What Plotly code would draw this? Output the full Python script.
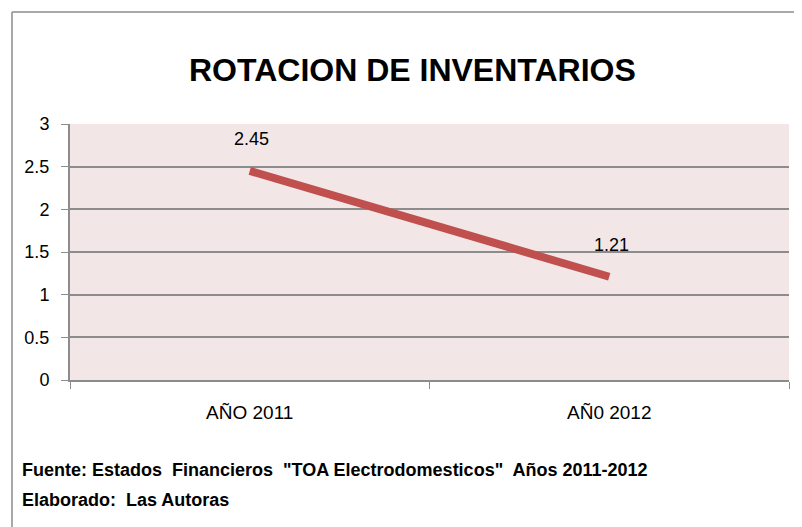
import plotly.graph_objects as go

categories = ["AÑO 2011", "AÑ0 2012"]
values = [2.45, 1.21]
value_labels = ["2.45", "1.21"]
y_ticks = [0, 0.5, 1, 1.5, 2, 2.5, 3]
y_tick_labels = ["0", "0.5", "1", "1.5", "2", "2.5", "3"]
title_text = "ROTACION DE INVENTARIOS"
footer_lines = [
    "Fuente: Estados\u00a0 Financieros\u00a0 \"TOA Electrodomesticos\"\u00a0 Años 2011-2012",
    "Elaborado:\u00a0 Las Autoras",
]

FONT = "Liberation Sans, Arial, sans-serif"
GRID = "#8c8c8c"

fig = go.Figure()
fig.add_trace(go.Scatter(
    x=categories, y=values, mode="lines",
    line=dict(color="#C0504D", width=8),
    hoverinfo="skip", showlegend=False,
))

for c, v, t in zip(categories, values, value_labels):
    fig.add_annotation(x=c, y=v, text=t, showarrow=False, yshift=32, xshift=2,
                       font=dict(family=FONT, size=18, color="#000"))

fig.add_annotation(xref="paper", yref="paper", x=0.477, y=1, yshift=54,
                   text="<b>" + title_text + "</b>", showarrow=False,
                   font=dict(family=FONT, size=32, color="#000"), xanchor="center", yanchor="middle")

for i, line in enumerate(footer_lines):
    fig.add_annotation(xref="paper", yref="paper", x=-0.0695, y=0, yshift=-90 - 30 * i,
                       text="<b>" + line + "</b>", showarrow=False, xanchor="left", yanchor="middle",
                       font=dict(family=FONT, size=18, color="#000"))

# outer chart border (top and left)
fig.add_shape(type="line", xref="paper", yref="paper", x0=-0.0807, x1=1.05, y0=1.4375, y1=1.4375,
              line=dict(color=GRID, width=1.5), layer="above")
fig.add_shape(type="line", xref="paper", yref="paper", x0=-0.0807, x1=-0.0807, y0=1.4375, y1=-1.0,
              line=dict(color=GRID, width=1.5), layer="above")

# page body has an 8px offset; margins compensate so the plot lands at x 70-789, y 124-380
fig.update_layout(
    width=802, height=527,
    margin=dict(l=62, r=21, t=116, b=155),
    paper_bgcolor="white",
    plot_bgcolor="#F2E7E6",
    font=dict(family=FONT, color="#000"),
    xaxis=dict(
        type="category", range=[-0.5, 1.5],
        tickson="boundaries", ticks="outside", ticklen=7, tickcolor=GRID,
        showgrid=False, showline=True, linecolor=GRID, linewidth=2,
        tickfont=dict(family=FONT, size=19, color="#000"),
        ticklabelstandoff=14,
        fixedrange=True,
    ),
    yaxis=dict(
        range=[0, 3], tickvals=y_ticks, ticktext=y_tick_labels,
        ticks="outside", ticklen=7, tickcolor=GRID,
        showgrid=True, gridcolor=GRID, gridwidth=2,
        showline=True, linecolor=GRID, linewidth=2,
        zeroline=False,
        tickfont=dict(family=FONT, size=18, color="#000"),
        ticklabelstandoff=8,
        fixedrange=True,
    ),
)

fig.write_html("out.html")
